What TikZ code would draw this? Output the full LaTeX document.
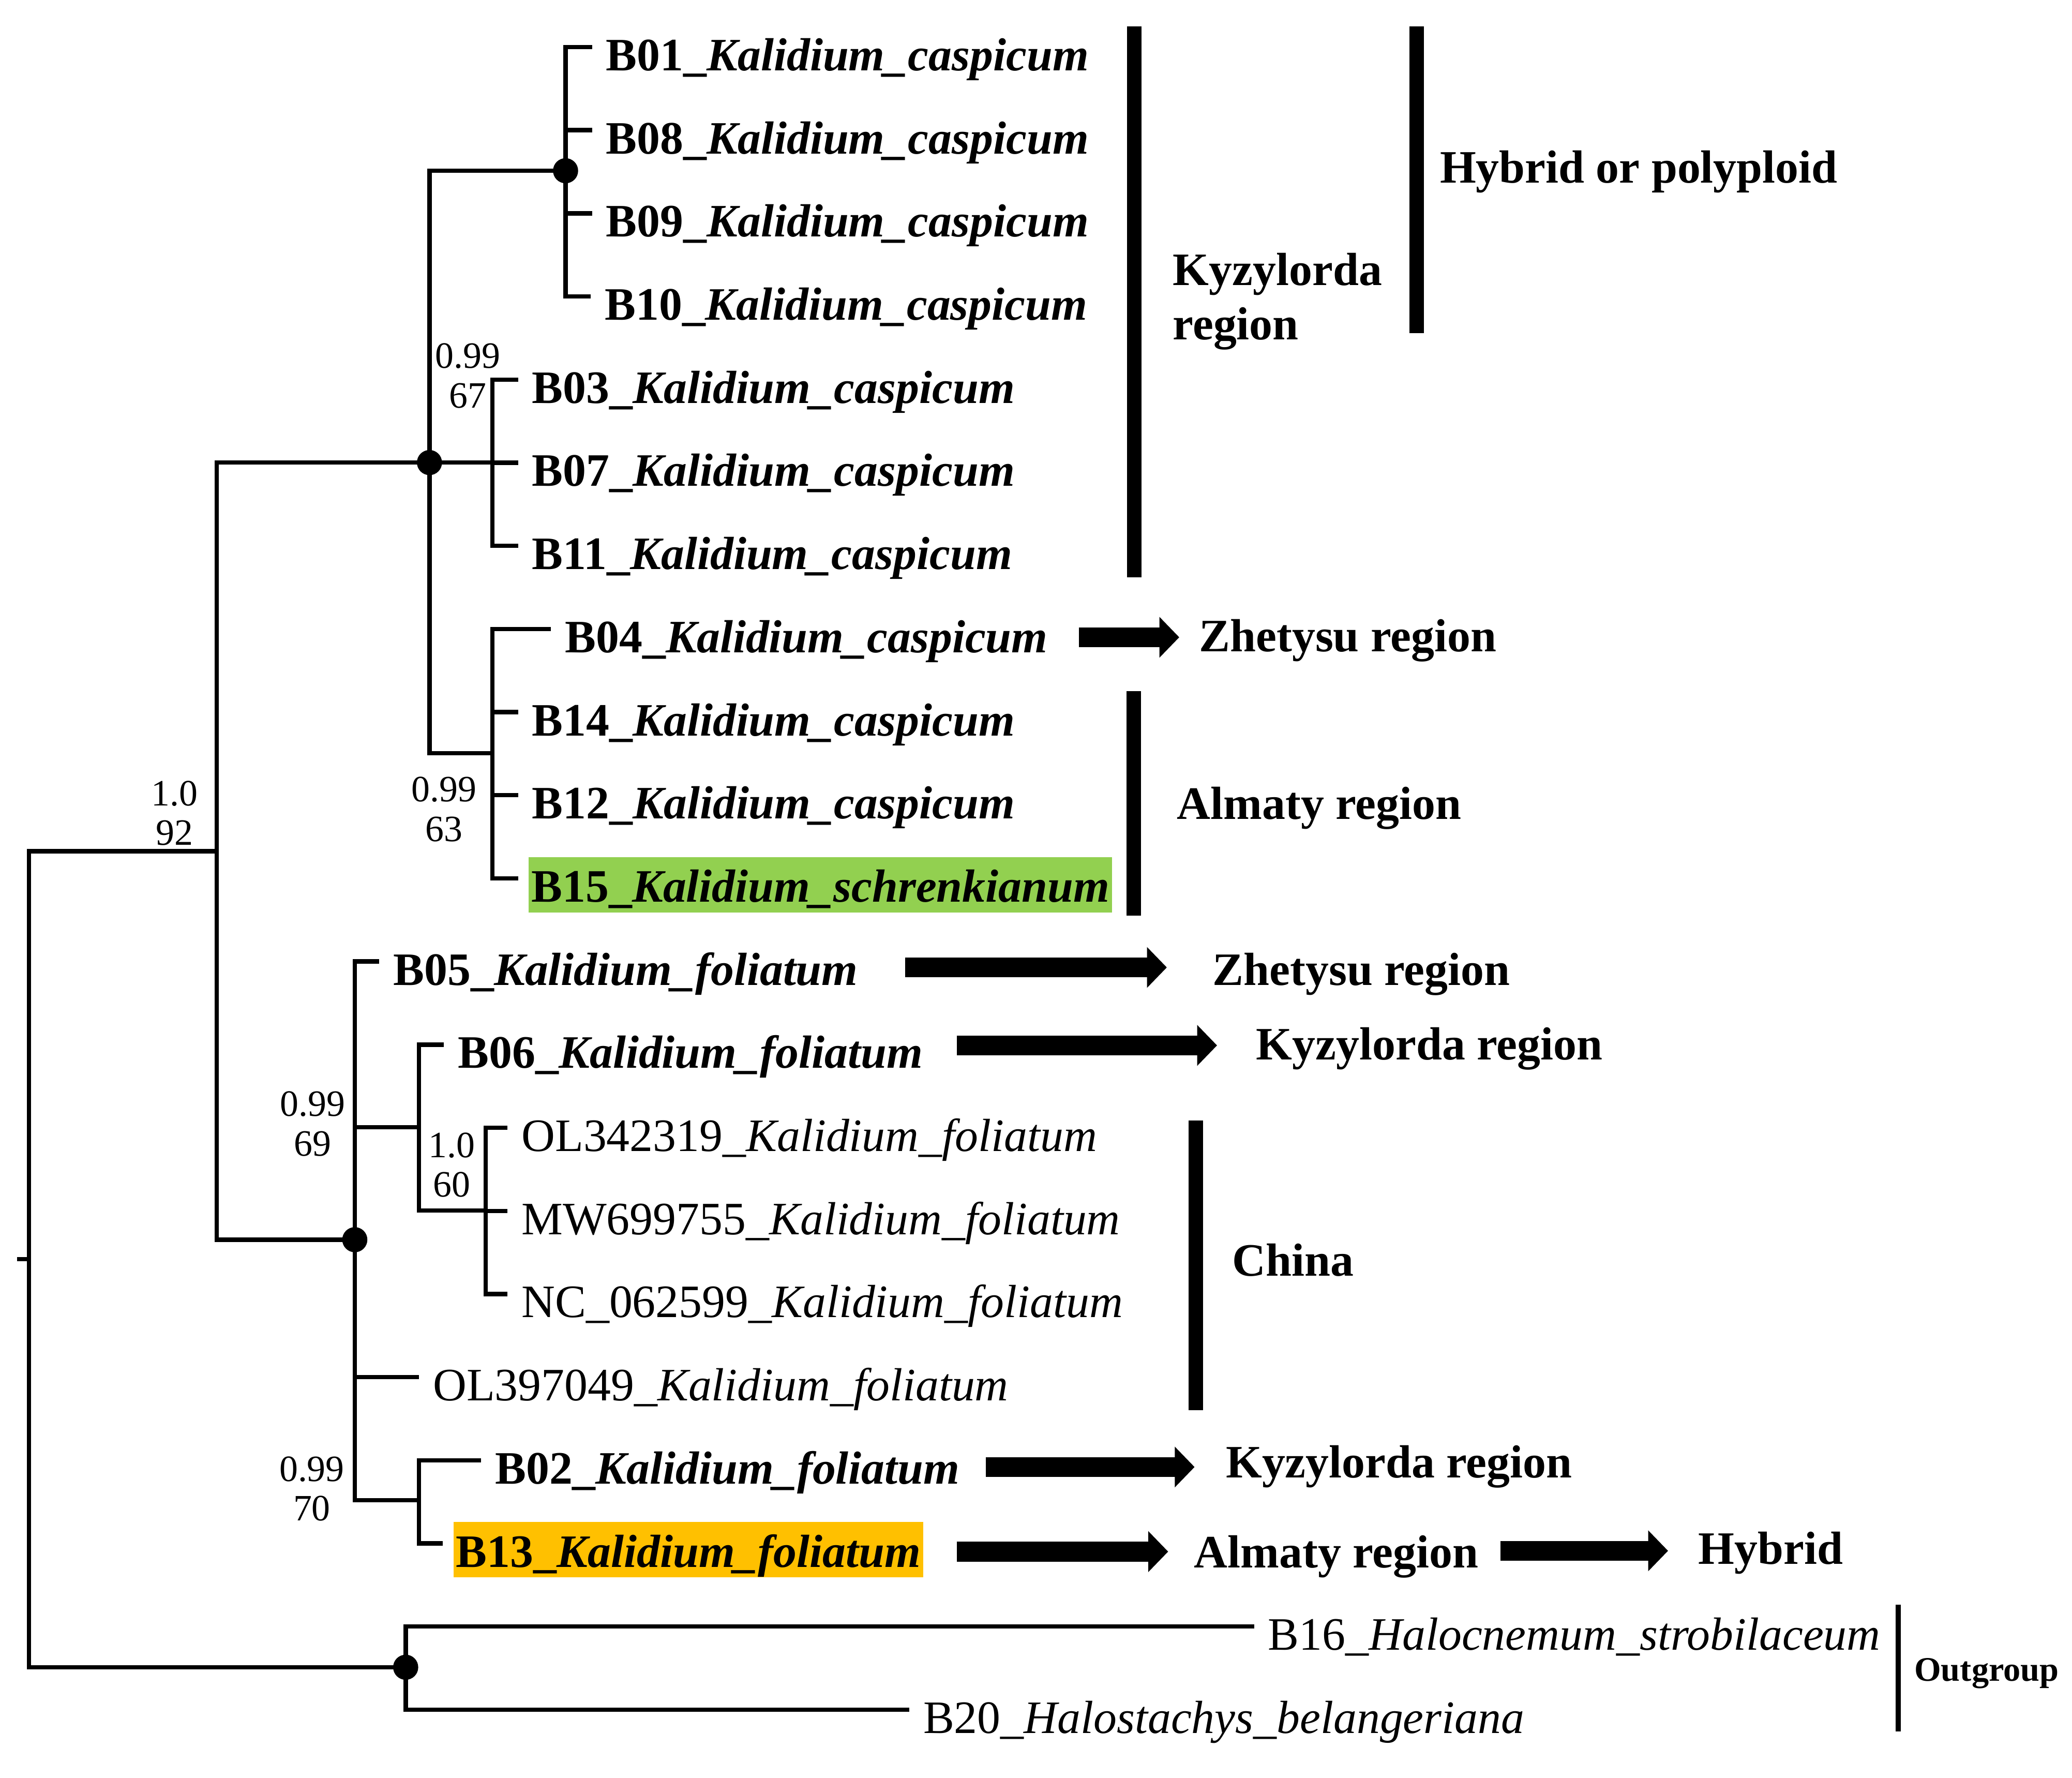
\documentclass[tikz,border=0pt]{standalone}
\usepackage{fontspec}
\setmainfont{Liberation Serif}
\usetikzlibrary{arrows.meta}

\definecolor{hlGreen}{HTML}{92D050}
\definecolor{hlOrange}{HTML}{FFC000}

\newcommand{\kcas}{\textit{Kalidium\_caspicum}}
\newcommand{\kfol}{\textit{Kalidium\_foliatum}}

\begin{document}
\begin{tikzpicture}[
    x=0.1mm, y=-0.1mm,
    branch/.style={line width=0.33mm},
    tip/.style={font=\fontsize{10}{12}\selectfont\bfseries, inner sep=0pt, anchor=base west},
    acc/.style={font=\fontsize{10}{12}\selectfont, inner sep=0pt, anchor=base west},
    hl/.style={tip, fill=#1, inner xsep=0.2mm, inner ysep=0.3mm,
        text height=3.1mm, text depth=0.5mm},
    supp/.style={font=\fontsize{8}{8.5}\selectfont, align=center, inner sep=0pt, anchor=base},
    region/.style={font=\fontsize{10}{11.7}\selectfont\bfseries, inner sep=0pt,
        anchor=base west, align=left},
    bar/.style={line width=1.1mm},
    blockarrow/.style={line width=1.5mm, -{Triangle[length=1.5mm, width=3mm]}},
]
\useasboundingbox (0,0) rectangle (1568,1345);
\def\dy{62.9}
\def\yo{35.6}

% leaf tips (end of each terminal branch)
\foreach \i/\tx in {0/448, 1/448, 2/448, 3/447, 4/392, 5/392, 6/392,
    7/417, 8/392, 9/392, 10/392, 11/287, 12/336, 13/384, 14/384,
    15/384, 16/317, 17/364, 18/335, 19/949, 20/688} {
    \coordinate (t\i) at (\tx, {\yo + \dy*\i});
}

% internal nodes
\coordinate (stub) at (13, 952.6);
\coordinate (nR)  at (21.9, 952.6);
\coordinate (nA)  at (164, 644);
\coordinate (nK)  at (325, 350);
\coordinate (nK1) at (428, 129.2);
\coordinate (nK2) at (372.6, 350);
\coordinate (nK3) at (372.6, 570);
\coordinate (nF)  at (268.5, 938);
\coordinate (nF1) at (317, 853);
\coordinate (nF2) at (367.5, 916);
\coordinate (nF3) at (317, 1135);
\coordinate (nO)  at (307, 1261.5);

% tree branches
\draw[branch] (stub) -- (nR);
\draw[branch] (nR) |- (nA);
\draw[branch] (nR) |- (nO);
\draw[branch] (nA) |- (nK);
\draw[branch] (nA) |- (nF);
\draw[branch] (nK) |- (nK1);
\draw[branch] (nK) |- (nK2);
\draw[branch] (nK) |- (nK3);
\foreach \i in {0,...,3} \draw[branch] (nK1) |- (t\i);
\foreach \i in {4,...,6} \draw[branch] (nK2) |- (t\i);
\foreach \i in {7,...,10} \draw[branch] (nK3) |- (t\i);
\draw[branch] (nF) |- (t11);
\draw[branch] (nF) |- (nF1);
\draw[branch] (nF) |- (t16);
\draw[branch] (nF) |- (nF3);
\draw[branch] (nF1) |- (t12);
\draw[branch] (nF1) |- (nF2);
\foreach \i in {13,...,15} \draw[branch] (nF2) |- (t\i);
\foreach \i in {17,18} \draw[branch] (nF3) |- (t\i);
\foreach \i in {19,20} \draw[branch] (nO) |- (t\i);

% full-support dots
\foreach \n in {nK1, nK, nF, nO} {
    \fill (\n) circle (0.95mm);
}

% support values (PP / BS), placed by the lower line
\node[supp] (s1) at (354, 308.5) {0.99\\67};
\node[supp] (s2) at (132, 639.5) {1.0\\92};
\node[supp] (s3) at (336, 636.5) {0.99\\63};
\node[supp] (s4) at (236.5, 874.5) {0.99\\69};
\node[supp] (s5) at (342, 905.5) {1.0\\60};
\node[supp] (s6) at (236, 1150.5) {0.99\\70};

% own samples (bold)
\foreach \i/\lbl in {0/{B01\_\kcas}, 1/{B08\_\kcas}, 2/{B09\_\kcas},
    3/{B10\_\kcas}, 4/{B03\_\kcas}, 5/{B07\_\kcas}, 6/{B11\_\kcas},
    7/{B04\_\kcas}, 8/{B14\_\kcas}, 9/{B12\_\kcas},
    11/{B05\_\kfol}, 12/{B06\_\kfol}, 17/{B02\_\kfol}} {
    \node[tip] (l\i) at ([xshift=1mm, yshift=-1.78mm]t\i) {\lbl};
}
\node[hl=hlGreen] (l10) at ([xshift=0.75mm, yshift=-1.78mm]t10)
    {B15\_\textit{Kalidium\_schrenkianum}};
\node[hl=hlOrange] (l18) at ([xshift=0.75mm, yshift=-1.78mm]t18)
    {B13\_\kfol};

% GenBank accessions and outgroup (regular)
\foreach \i/\lbl in {13/{OL342319\_\kfol}, 14/{MW699755\_\kfol},
    15/{NC\_062599\_\kfol}, 16/{OL397049\_\kfol},
    19/{B16\_\textit{Halocnemum\_strobilaceum}},
    20/{B20\_\textit{Halostachys\_belangeriana}}} {
    \node[acc] (l\i) at ([xshift=1mm, yshift=-1.78mm]t\i) {\lbl};
}

% group bars
\draw[bar] (858.5, 20) -- (858.5, 437);
\draw[bar] (1072, 20) -- (1072, 252);
\draw[bar] (858, 523) -- (858, 693);
\draw[bar] (905, 848) -- (905, 1067);
\draw[line width=0.4mm] (1436.5, 1214) -- (1436.5, 1310);

% region labels
\node[region] (kyz1) at (887, 257) {Kyzylorda\\region};
\node[region] (hyb1) at (1089, 138.5) {Hybrid or polyploid};
\node[region] (zhe1) at (906.8, 492.8) {Zhetysu region};
\node[region] (alm1) at (890, 620) {Almaty region};
\node[region] (zhe2) at (917, 745.3) {Zhetysu region};
\node[region] (kyz2) at (950, 802) {Kyzylorda region};
\node[region] (chn)  at (932, 965.6) {China};
\node[region] (kyz3) at (927, 1118) {Kyzylorda region};
\node[region] (alm2) at (903, 1186) {Almaty region};
\node[region] (hyb2) at (1284.5, 1183.3) {Hybrid};
\node[region, font=\fontsize{7.4}{9}\selectfont\bfseries] (outg) at (1448, 1272) {Outgroup};

% block arrows
\foreach \xa/\xb/\yy [count=\k] in {816.5/892.4/482.2, 685/883/732,
    724/921/791, 746/904/1110, 724/884/1174, 1135.4/1262.3/1173.4} {
    \coordinate (as\k) at (\xa, \yy);
    \coordinate (ae\k) at (\xb, \yy);
    \draw[blockarrow] (as\k) -- (ae\k);
}

\end{tikzpicture}
\end{document}
